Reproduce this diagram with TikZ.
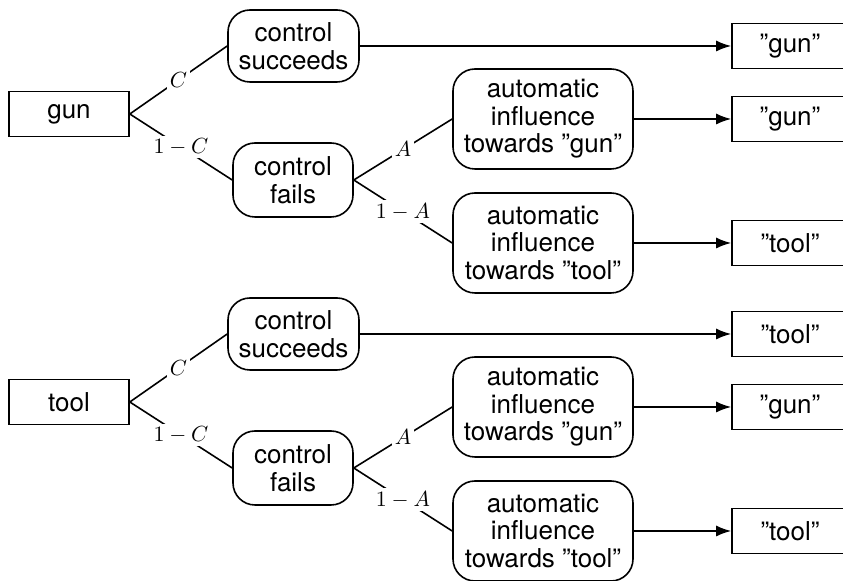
\documentclass[tikz,border=0pt]{standalone}
\usepackage{fontspec}
\setmainfont{TeX Gyre Heros}
\usetikzlibrary{arrows.meta}
\begin{document}
\begin{tikzpicture}[x=0.5pt,y=-0.5pt,line width=0.8pt,
  every node/.style={font=\fontsize{13}{13.75}\selectfont,align=center,inner sep=0pt},
  srcbox/.style={draw,rectangle,minimum width=60pt,minimum height=22.5pt},
  stage/.style={draw,rounded corners=11pt},
  prob/.style={fill=white,inner sep=1.5pt,font=\fontsize{10.5}{12}\selectfont},
  outbox/.style={draw,rectangle,minimum width=58pt,minimum height=22.5pt},
  result/.style={-{Latex[length=7.5pt,width=5.5pt]}}]
\useasboundingbox (0,0) rectangle (843,581);
\clip (0,0) rectangle (843,581);

% two trees, one per stimulus, the lower one shifted down by 288 units
\foreach \stim/\dy/\sa/\sb/\sc in {gun/0/”gun”/”gun”/”tool”, tool/288/”tool”/”gun”/”tool”}{
  \begin{scope}[yshift=-\dy*0.5pt]
    \node[srcbox] (src) at (69,114) {\stim};
    \node[stage,minimum width=65.5pt,minimum height=36pt] (ok) at (293.5,46) {control\\succeeds};
    \node[stage,minimum width=60pt,minimum height=37pt] (fail) at (293,180) {control\\fails};
    \node[stage,minimum width=90pt,minimum height=50pt] (ag) at (543,119) {automatic\\influence\\towards ”gun”};
    \node[stage,minimum width=90pt,minimum height=50pt] (at) at (543,243) {automatic\\influence\\towards ”tool”};
    \node[outbox] (o1) at (790,46) {\sa};
    \node[outbox] (o2) at (790,119) {\sb};
    \node[outbox] (o3) at (790,243) {\sc};

    \draw (src.east) -- node[prob] {$C$} (ok.west);
    \draw (src.east) -- node[prob] {$1-C$} (fail.west);
    \draw (fail.east) -- node[prob] {$A$} (ag.west);
    \draw (fail.east) -- node[prob] {$1-A$} (at.west);
    \draw[result] (ok.east) -- (o1.west);
    \draw[result] (ag.east) -- (o2.west);
    \draw[result] (at.east) -- (o3.west);
  \end{scope}
}
\end{tikzpicture}
\end{document}
